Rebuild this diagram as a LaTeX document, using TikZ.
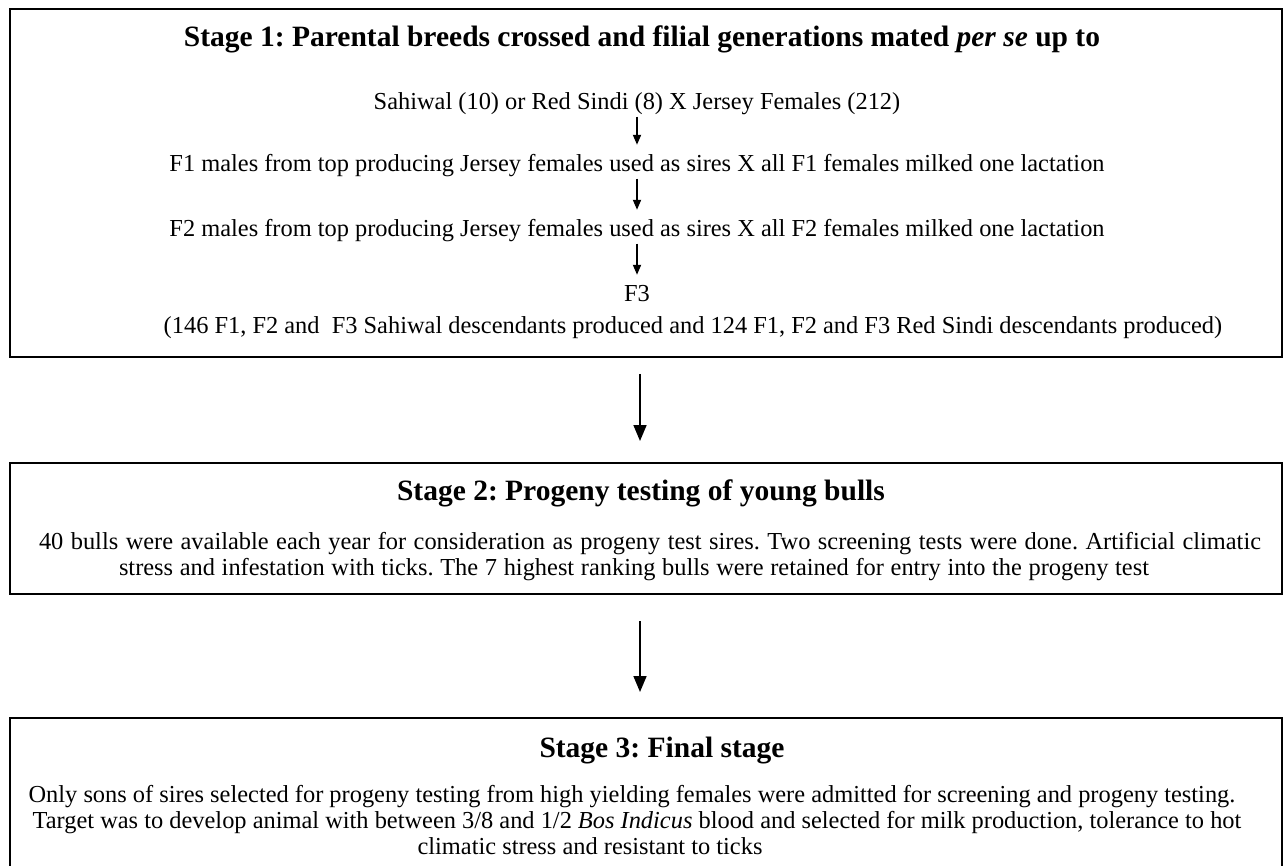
\documentclass[tikz,border=0pt]{standalone}
\usepackage{fontspec}
\setmainfont{Liberation Serif}
\usetikzlibrary{arrows.meta}
\frenchspacing
\begin{document}
\begin{tikzpicture}[x=1pt,y=-1pt,
  stagebox/.style={draw=black,line width=2pt,inner sep=0pt},
  body/.style={inner sep=0pt,anchor=base,font=\fontsize{24.4}{28}\selectfont,text height=17pt,text depth=5pt},
  ttl/.style={inner sep=0pt,anchor=base,font=\fontsize{29.5}{34}\selectfont\bfseries},
  smallarrow/.style={-{Triangle[length=10pt,width=8pt]},line width=1.8pt,shorten <=1.5pt,shorten >=10pt},
  bigarrow/.style={-{Triangle[length=16pt,width=13pt]},line width=1.7pt}]
\useasboundingbox (0,0) rectangle (1285,866);
\clip (0,0) rectangle (1285,866);
\fill[white] (0,0) rectangle (1285,866);

% boxes
\node[stagebox,minimum width=1272pt,minimum height=348pt] (b1) at (646,183) {};
\node[stagebox,minimum width=1272pt,minimum height=131pt] (b2) at (646,528.5) {};
\node[stagebox,minimum width=1272pt,minimum height=157pt] (b3) at (646,796.5) {};

% stage 1
\node[ttl] (t1) at (642,47) {Stage 1: Parental breeds crossed and filial generations mated \textit{per se} up to};
\node[body] (sah) at (637,110) {Sahiwal (10) or Red Sindi (8) X Jersey Females (212)};
\node[body] (f1) at (637,172) {F1 males from top producing Jersey females used as sires X all F1 females milked one lactation};
\node[body] (f2) at (637,237) {F2 males from top producing Jersey females used as sires X all F2 females milked one lactation};
\node[body] (f3) at (637,302) {F3};
\node[body] (desc) at (693,334) {(146 F1, F2 and\ \ F3 Sahiwal descendants produced and 124 F1, F2 and F3 Red Sindi descendants produced)};

% stage 2
\node[ttl] (t2) at (641,500) {Stage 2: Progeny testing of young bulls};
\node[body] (s2a) at (650,549) {\makebox[1222pt][s]{40 bulls were available each year for consideration as progeny test sires. Two screening tests were done. Artificial climatic}};
\node[body] (s2b) at (634,575) {\makebox[1030pt][s]{stress and infestation with ticks. The 7 highest ranking bulls were retained for entry into the progeny test}};

% stage 3
\node[ttl] (t3) at (662,757) {Stage 3: Final stage};
\node[body] (s3a) at (632,802) {Only sons of sires selected for progeny testing from high yielding females were admitted for screening and progeny testing.};
\node[body] (s3b) at (637,828) {Target was to develop animal with between 3/8 and 1/2 \textit{Bos Indicus} blood and selected for milk production, tolerance to hot};
\node[body] (s3c) at (590,854) {climatic stress and resistant to ticks};

% arrows
\draw[smallarrow] (sah) -- (f1);
\draw[smallarrow] (f1) -- (f2);
\draw[smallarrow] (f2) -- (f3);
\draw[bigarrow,shorten <=16pt,shorten >=21pt] ([xshift=-6pt]b1.south) -- ([xshift=-6pt]b2.north);
\draw[bigarrow,shorten <=26pt,shorten >=25pt] ([xshift=-6pt]b2.south) -- ([xshift=-6pt]b3.north);
\end{tikzpicture}
\end{document}
